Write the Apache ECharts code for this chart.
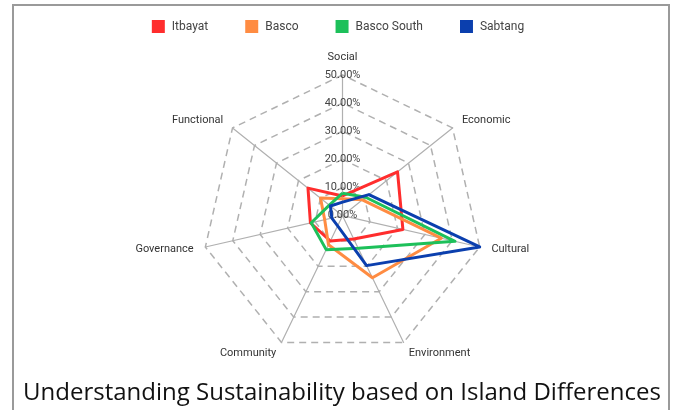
<!DOCTYPE html>
<html>
<head>
<meta charset="utf-8">
<script src="https://cdn.jsdelivr.net/npm/echarts@6/dist/echarts.min.js"></script>
<style>
html,body{margin:0;padding:0;background:#fff;}
#c{width:676px;height:410px;}
</style>
</head>
<body>
<div id="c"></div>
<script>
// Clockwise from top
const indicators = ['Social', 'Economic', 'Cultural', 'Environment', 'Community', 'Governance', 'Functional'];
const seriesNames = ['Itbayat', 'Basco', 'Basco South', 'Sabtang'];
const itbayat = [7, 25, 22, 9.2, 10, 11.7, 15.7];
const basco = [6, 9, 36, 24.5, 11.5, 6.5, 10];
const bascoSouth = [8, 10.5, 41, 12.9, 13.4, 11.4, 6];
const sabtang = [4.8, 12, 50, 19.7, 4, 3.9, 5.5];
const axisMax = 50;
const titleText = 'Understanding Sustainability based on Island Differences';

const colors = ['#ff2d2d', '#ff8c42', '#1dc05a', '#0b3fae'];
const values = [itbayat, basco, bascoSouth, sabtang];

// ECharts radar runs counter-clockwise; reorder so the picture runs clockwise
const order = indicators.map((_, i) => (indicators.length - i) % indicators.length);
const reorder = arr => order.map(k => arr[k]);

const chart = echarts.init(document.getElementById('c'), null, {renderer: 'canvas'});
const font = 'Roboto, "Noto Sans", sans-serif';

const option = {
  animation: false,
  color: colors,
  graphic: [{
    type: 'rect',
    shape: {x: 13, y: 5, width: 656, height: 430},
    style: {fill: 'none', stroke: '#9a9a9a', lineWidth: 2},
    silent: true, z: -1
  }],
  title: {
    text: titleText,
    left: 337,
    top: 376,
    textAlign: 'center',
    textStyle: {fontFamily: '"Open Sans", sans-serif', fontSize: 24, fontWeight: 'normal', color: '#111'}
  },
  legend: {
    top: 15,
    left: 'center',
    icon: 'rect',
    itemWidth: 13,
    itemHeight: 13,
    itemGap: 37,
    textStyle: {fontFamily: font, fontSize: 12, color: '#444', padding: [0, 0, 0, 2]},
    data: seriesNames
  },
  radar: {
    center: ['50.67%', '52.6%'],
    radius: 140.7,
    startAngle: 90,
    splitNumber: 5,
    nameGap: 12,
    shape: 'polygon',
    axisName: {color: '#333', fontFamily: font, fontSize: 11},
    axisLine: {lineStyle: {color: '#b0b0b0', width: 1.2}},
    splitLine: {lineStyle: {color: '#b0b0b0', width: 1.5, type: [7, 5]}},
    splitArea: {show: false},
    axisLabel: {show: false},
    indicator: reorder(indicators).map((n, i) => {
      const o = {name: n, min: 0, max: axisMax};
      if (i === 0) {
        o.axisLabel = {
          show: true, margin: 0, align: 'center', verticalAlign: 'middle',
          color: '#444', fontFamily: font, fontSize: 11,
          formatter: v => Number(v).toFixed(2) + '%'
        };
      }
      return o;
    })
  },
  series: [{
    type: 'radar',
    symbol: 'none',
    data: seriesNames.map((n, i) => ({
      name: n,
      value: reorder(values[i]),
      lineStyle: {color: colors[i], width: 3},
      itemStyle: {color: colors[i]}
    }))
  }]
};
chart.setOption(option);
</script>
</body>
</html>
